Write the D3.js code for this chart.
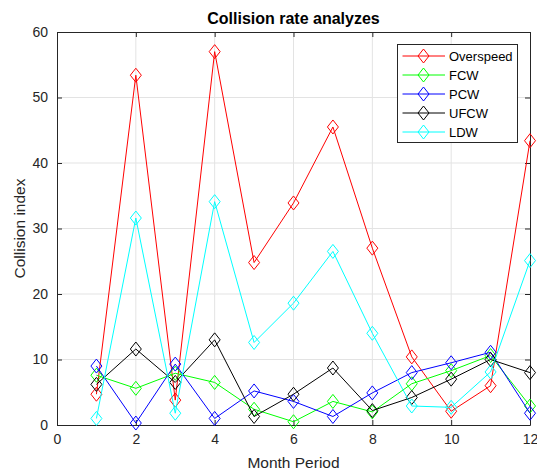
<!DOCTYPE html>
<html lang="en">
<head>
<meta charset="utf-8">
<title>Collision rate analyzes</title>
<script src="https://d3js.org/d3.v7.min.js"></script>
<style>
  body { margin: 0; background: #fff; }
  text { font-family: "Liberation Sans", Arial, sans-serif; }
</style>
</head>
<body>
<script>
// data
var months = [1, 2, 3, 4, 5, 6, 7, 8, 9, 10, 11, 12];
var seriesNames = ["Overspeed", "FCW", "PCW", "UFCW", "LDW"];
var seriesColors = ["#ff0000", "#00ff00", "#0000ff", "#000000", "#00ffff"];
var overspeed = [4.7, 53.4, 3.8, 57.0, 24.8, 33.9, 45.5, 27.0, 10.4, 2.1, 6.0, 43.4];
var fcw = [7.6, 5.6, 7.9, 6.5, 2.4, 0.5, 3.6, 2.0, 6.3, 8.3, 10.6, 2.9];
var pcw = [9.0, 0.3, 9.3, 1.0, 5.2, 3.6, 1.3, 4.9, 8.0, 9.5, 11.1, 1.8];
var ufcw = [6.2, 11.6, 6.5, 13.0, 1.3, 4.7, 8.7, 2.2, 4.2, 7.0, 10.0, 8.0];
var ldw = [1.0, 31.6, 1.8, 34.1, 12.6, 18.6, 26.5, 14.0, 2.9, 2.7, 8.1, 25.1];
var xTicks = [0, 2, 4, 6, 8, 10, 12];
var yTicks = [0, 10, 20, 30, 40, 50, 60];

var allValues = [overspeed, fcw, pcw, ufcw, ldw];

var W = 537, H = 472;
var margin = {top: 32, left: 57, right: 7, bottom: 47};
var width = W - margin.left - margin.right;
var height = H - margin.top - margin.bottom;

var svg = d3.select("body").append("svg")
  .attr("width", W).attr("height", H);

var g = svg.append("g")
  .attr("transform", "translate(" + margin.left + "," + margin.top + ")");

var x = d3.scaleLinear().domain([0, 12]).range([0, width]);
var y = d3.scaleLinear().domain([0, 60]).range([height, 0]);

// grid
g.append("g").selectAll("line").data(xTicks.slice(1, -1)).enter().append("line")
  .attr("x1", d => x(d)).attr("x2", d => x(d)).attr("y1", 0).attr("y2", height)
  .attr("stroke", "#e3e3e3").attr("stroke-width", 1);
g.append("g").selectAll("line").data(yTicks.slice(1, -1)).enter().append("line")
  .attr("y1", d => y(d)).attr("y2", d => y(d)).attr("x1", 0).attr("x2", width)
  .attr("stroke", "#e3e3e3").attr("stroke-width", 1);

// axes (ticks pointing inward, MATLAB style)
var xAxis = d3.axisBottom(x).tickValues(xTicks).tickSize(-5).tickPadding(9).tickSizeOuter(0);
var yAxis = d3.axisLeft(y).tickValues(yTicks).tickSize(-5).tickPadding(9).tickSizeOuter(0);
var xAxisTop = d3.axisTop(x).tickValues(xTicks).tickSize(-5).tickFormat("").tickSizeOuter(0);
var yAxisRight = d3.axisRight(y).tickValues(yTicks).tickSize(-5).tickFormat("").tickSizeOuter(0);

[g.append("g").attr("transform", "translate(0," + height + ")").call(xAxis),
 g.append("g").call(yAxis),
 g.append("g").call(xAxisTop),
 g.append("g").attr("transform", "translate(" + width + ",0)").call(yAxisRight)
].forEach(function(a) {
  a.selectAll("path").attr("stroke", "#262626");
  a.selectAll("line").attr("stroke", "#262626");
  a.selectAll("text").attr("fill", "#262626").style("font-size", "14px")
    .style("font-family", "'Liberation Sans', Arial, sans-serif");
});

// series
var line = d3.line().x((d, i) => x(months[i])).y(d => y(d));
function diamond(cx, cy) {
  var hw = 5.5, hh = 7;
  return "M" + cx + "," + (cy - hh) + "L" + (cx + hw) + "," + cy + "L" + cx + "," + (cy + hh) + "L" + (cx - hw) + "," + cy + "Z";
}

allValues.forEach(function(vals, k) {
  var sg = g.append("g");
  sg.append("path").datum(vals).attr("d", line)
    .attr("fill", "none").attr("stroke", seriesColors[k]).attr("stroke-width", 1);
  sg.selectAll("path.m").data(vals).enter().append("path").attr("class", "m")
    .attr("d", (d, i) => diamond(x(months[i]), y(d)))
    .attr("fill", "none").attr("stroke", seriesColors[k]).attr("stroke-width", 1);
});

// legend
var lg = svg.append("g").attr("transform", "translate(397.5,44.5)");
lg.append("rect").attr("width", 120).attr("height", 98)
  .attr("fill", "#fff").attr("stroke", "#262626").attr("stroke-width", 1);
seriesNames.forEach(function(name, k) {
  var ly = 11.5 + k * 19;
  lg.append("line").attr("x1", 5).attr("x2", 47.5).attr("y1", ly).attr("y2", ly)
    .attr("stroke", seriesColors[k]);
  lg.append("path").attr("d", diamond(26, ly)).attr("fill", "none").attr("stroke", seriesColors[k]);
  lg.append("text").attr("x", 51.5).attr("y", ly + 4.5).text(name)
    .style("font-size", "13px").attr("fill", "#000");
});

// title and labels
svg.append("text").attr("x", margin.left + width / 2).attr("y", 24)
  .attr("text-anchor", "middle").style("font-size", "16px").style("font-weight", "bold")
  .text("Collision rate analyzes");
svg.append("text").attr("x", margin.left + width / 2).attr("y", 468)
  .attr("text-anchor", "middle").style("font-size", "15.5px").attr("fill", "#262626")
  .text("Month Period");
svg.append("text").attr("transform", "translate(25," + (margin.top + height / 2) + ") rotate(-90)")
  .attr("text-anchor", "middle").style("font-size", "15.5px").attr("fill", "#262626")
  .text("Collision index");
</script>
</body>
</html>
